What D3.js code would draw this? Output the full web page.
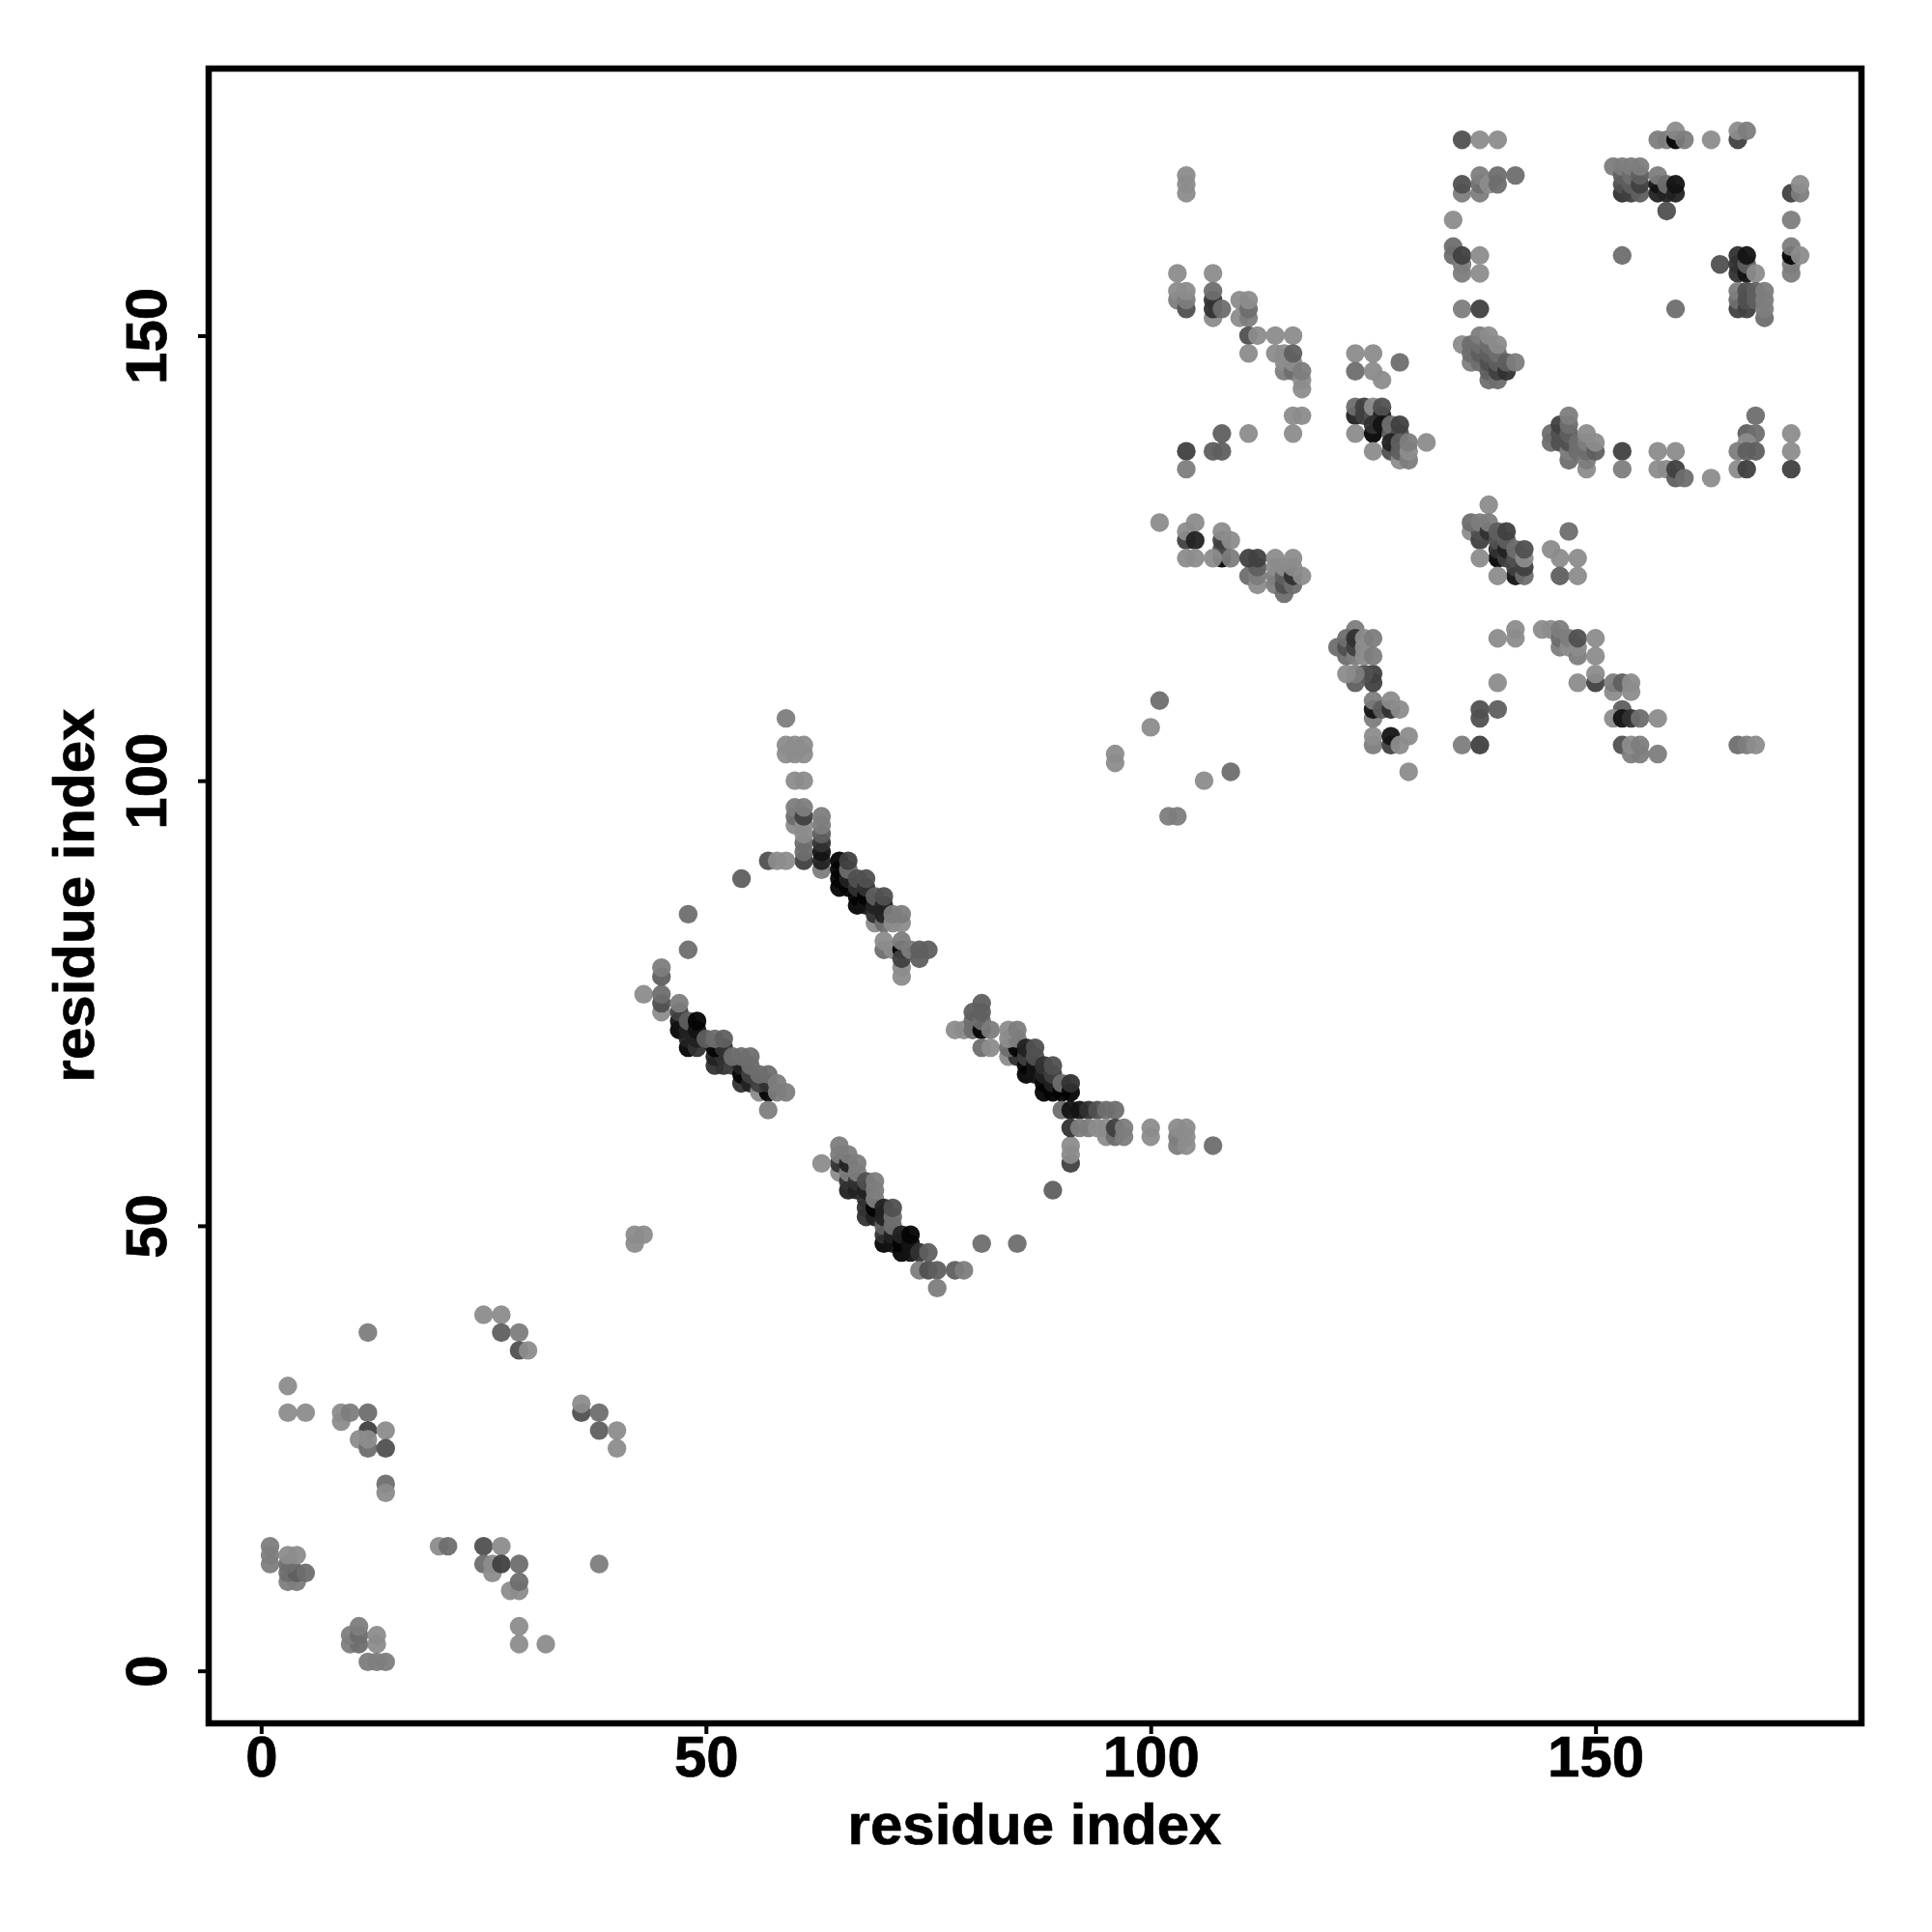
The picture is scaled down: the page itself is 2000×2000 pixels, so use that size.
<!DOCTYPE html>
<html><head><meta charset="utf-8"><style>html,body{margin:0;background:#fff}svg{display:block}text{font-family:"Liberation Sans",Arial,sans-serif;font-weight:bold;fill:#000;stroke:#000;stroke-width:0.7px}</style>
<script src="https://cdnjs.cloudflare.com/ajax/libs/d3/7.8.5/d3.min.js"></script></head><body><script>
// each contact: [residue i, residue j, shade 0 (weak) .. 9 (strong)]
const lowerContacts=[[42,49,0],[43,49,0],[42,48,0],[25,40,0],[27,40,0],[27,38,3],[29,38,1],[29,36,4],[30,36,0],[12,38,1],[3,32,0],[3,29,0],[5,29,0],[9,28,0],[9,29,0],[10,29,1],[12,29,2],[12,27,5],[14,27,0],[11,26,0],[12,25,2],[12,26,0],[14,25,4],[14,21,2],[14,20,0],[36,29,4],[36,30,0],[38,29,2],[38,27,3],[40,27,0],[40,25,0],[1,14,1],[1,13,1],[1,12,1],[3,10,1],[4,10,1],[3,11,2],[4,11,3],[5,11,2],[3,12,2],[3,13,0],[4,13,0],[20,14,0],[21,14,2],[25,14,4],[27,14,0],[25,12,2],[26,11,0],[26,12,0],[27,12,5],[29,12,2],[28,9,0],[29,9,0],[29,10,2],[38,12,1],[10,3,1],[11,3,2],[10,4,1],[11,4,2],[11,5,1],[13,3,0],[13,4,0],[12,1,1],[13,1,1],[14,1,1],[29,5,0],[29,3,0],[32,3,0]];
const hairpinA=[[59,107,1],[59,103,0],[60,103,0],[61,103,0],[59,104,0],[60,104,0],[61,104,0],[60,100,0],[61,100,0],[60,95,0],[60,96,2],[60,97,1],[61,91,5],[61,92,2],[61,93,2],[61,94,0],[61,95,0],[61,96,5],[61,97,1],[63,90,1],[63,91,7],[63,92,8],[63,93,6],[63,94,3],[63,95,1],[63,96,1],[57,91,4],[58,91,0],[59,91,0],[54,89,3],[48,85,2],[48,81,2],[43,76,0],[45,74,0],[45,75,4],[45,76,2],[45,78,3],[45,79,1],[47,72,9],[47,73,8],[47,74,5],[47,75,1],[48,70,9],[48,71,7],[48,72,7],[48,73,3],[49,70,6],[49,71,7],[49,72,8],[49,73,9],[51,68,6],[52,68,6],[51,69,7],[52,69,6],[51,70,9],[52,70,6],[50,71,3],[51,71,2],[52,71,3],[53,68,5],[54,66,6],[54,67,9],[54,68,7],[55,66,7],[55,67,5],[55,68,2],[53,69,2],[54,69,2],[55,69,2],[56,65,0],[57,65,9],[56,66,5],[57,66,6],[56,67,2],[57,67,2],[58,65,1],[58,66,1],[59,65,1],[57,63,1]];
const hairpinB=[[65,88,9],[65,89,9],[65,90,9],[65,91,9],[66,88,9],[66,89,7],[66,90,2],[66,91,5],[67,86,9],[67,87,9],[67,88,6],[67,89,4],[68,86,8],[68,87,9],[68,88,6],[68,89,4],[69,84,0],[69,85,6],[69,86,7],[69,87,3],[70,84,2],[70,85,7],[70,86,7],[70,87,4],[71,84,0],[72,84,0],[71,85,1],[72,85,1],[70,81,2],[70,82,0],[71,81,0],[72,79,0],[72,78,0],[72,81,9],[72,80,5],[72,82,1],[73,81,1],[74,80,3],[74,81,3],[75,81,3],[78,72,0],[79,72,0],[80,72,2],[80,73,2],[81,72,9],[80,74,3],[81,73,2],[81,74,3],[81,75,3],[82,72,1],[81,70,2],[82,70,0],[84,69,0],[85,69,6],[84,70,2],[85,70,9],[84,71,0],[85,71,1],[84,72,0],[85,72,1],[86,67,9],[86,68,9],[86,69,5],[86,70,7],[87,67,8],[87,68,8],[87,69,4],[87,70,4],[88,65,9],[88,66,9],[88,67,7],[88,68,6],[89,65,9],[89,66,7],[89,67,5],[89,68,4],[90,65,9],[90,66,2],[91,65,9],[91,66,6]];
const hairpinC=[[65,56,0],[65,57,6],[65,58,1],[65,59,1],[63,57,0],[66,54,7],[66,55,6],[66,56,1],[66,57,7],[66,58,1],[67,54,7],[67,55,6],[67,56,1],[67,57,1],[68,51,6],[68,52,6],[68,53,6],[68,54,7],[68,55,4],[69,51,7],[69,52,9],[69,53,1],[69,54,1],[69,55,1],[70,48,9],[70,49,6],[70,50,3],[70,51,7],[70,52,7],[71,48,8],[71,49,7],[71,50,2],[71,51,2],[71,52,4],[72,47,9],[72,48,9],[72,49,7],[73,47,8],[73,48,8],[73,49,9],[74,47,6],[75,47,3],[74,45,1],[75,45,4],[76,45,3],[78,45,3],[79,45,1],[76,43,1],[81,48,2],[85,48,2],[89,54,3],[91,57,5],[91,58,0],[91,59,0],[90,63,2],[91,63,8],[92,63,8],[93,63,6],[94,63,4],[95,63,2],[96,63,2],[91,61,6],[92,61,1],[93,61,1],[94,61,0],[95,60,0],[95,61,0],[96,60,2],[96,61,5],[97,60,1],[97,61,1],[100,60,0],[100,61,0],[103,59,1],[103,60,1],[103,61,0],[104,59,0],[104,60,0],[104,61,0],[107,59,2]];
const upperLeft=[[101,109,2],[100,106,0],[96,102,0],[96,103,0],[106,100,0],[109,101,2],[102,96,1],[103,96,1],[129,101,0],[125,104,1],[125,105,0],[127,104,5],[127,105,8],[128,104,0],[129,105,0],[125,107,1],[125,108,8],[125,109,1],[126,108,3],[127,108,6],[127,109,0],[128,108,0],[125,111,5],[125,112,5],[124,112,4],[123,111,3],[123,112,1],[122,112,0],[123,117,1],[121,115,2],[122,114,2],[122,115,4],[122,116,2],[123,114,1],[123,115,5],[123,116,6],[124,114,0],[124,115,0],[124,116,0],[125,114,1],[125,116,1],[135,104,1],[137,104,5],[137,107,4],[137,108,4],[139,108,3],[103,157,0],[107,157,0],[103,154,1],[103,155,0],[104,153,4],[104,154,1],[104,155,0],[107,152,0],[107,153,6],[107,154,6],[107,155,2],[108,153,2],[110,152,0],[110,154,0],[111,152,1],[111,153,2],[111,154,0],[111,150,4],[112,150,0],[114,150,0],[116,150,0],[111,148,0],[114,148,0],[115,148,0],[115,146,1],[115,147,0],[116,146,2],[116,147,0],[116,148,3],[117,144,0],[117,145,0],[117,146,1],[116,141,0],[117,141,0],[116,139,0],[111,139,0],[108,139,3],[107,137,3],[108,137,3],[104,137,5],[104,135,1],[104,166,0],[104,167,0],[104,168,0],[123,148,0],[125,148,0],[123,146,2],[125,146,0],[126,145,0],[128,147,2]];
const upperMiddle=[[123,141,7],[123,142,2],[124,141,5],[124,142,5],[125,141,4],[125,142,0],[126,141,7],[126,142,4],[123,139,0],[125,139,9],[125,140,6],[126,140,8],[127,139,3],[127,140,2],[128,139,4],[128,140,5],[125,137,0],[127,137,4],[127,138,7],[128,136,0],[128,137,3],[128,138,3],[129,136,1],[129,137,0],[129,138,1],[131,138,0],[101,129,0],[105,129,0],[104,127,5],[104,128,0],[105,127,7],[104,125,0],[105,125,0],[108,125,9],[108,126,4],[108,127,5],[108,128,0],[109,127,0],[107,125,0],[109,125,1],[111,123,2],[112,122,0],[112,123,1],[112,124,3],[111,125,5],[112,125,5],[114,122,1],[114,123,1],[114,124,0],[114,125,0],[115,121,2],[115,122,4],[115,123,3],[115,124,0],[116,122,2],[116,123,6],[116,124,0],[116,125,0],[117,123,0]];
const upperRight=[[138,131,0],[136,128,0],[137,127,5],[137,128,4],[136,129,2],[137,129,1],[138,128,6],[138,129,1],[139,125,9],[139,126,6],[139,127,4],[139,128,3],[140,125,5],[140,126,7],[140,127,3],[140,128,5],[137,125,0],[141,123,8],[141,124,5],[141,125,4],[141,126,2],[142,123,2],[142,124,5],[142,125,0],[142,126,4],[139,123,0],[147,128,2],[145,126,0],[146,125,0],[148,125,0],[146,123,3],[148,123,0],[139,116,0],[141,116,0],[141,117,0],[144,117,0],[145,117,0],[146,115,1],[146,116,2],[146,117,1],[147,115,0],[147,116,1],[148,114,1],[148,115,0],[148,116,4],[150,116,0],[150,114,0],[139,111,0],[148,111,0],[150,111,5],[150,112,0],[152,110,0],[152,111,1],[153,111,3],[154,110,0],[154,111,0],[153,108,3],[152,107,0],[153,107,8],[154,107,6],[155,107,2],[157,107,0],[153,104,4],[154,103,1],[155,103,1],[154,104,0],[155,104,1],[157,103,1],[166,104,2],[167,104,1],[168,104,0]];
const topGroup=[[135,172,4],[137,172,0],[139,172,0],[135,166,1],[135,167,4],[137,166,1],[137,167,2],[137,168,1],[138,167,0],[139,167,2],[139,168,2],[141,168,2],[134,163,0],[134,159,2],[134,160,2],[135,157,1],[135,158,1],[135,159,5],[137,157,0],[137,159,0],[135,153,1],[137,153,5],[135,149,0],[136,147,1],[136,148,2],[136,149,2],[137,147,2],[137,148,3],[137,149,2],[137,150,1],[138,145,2],[138,146,3],[138,147,4],[138,148,3],[138,149,2],[138,150,0],[139,145,2],[139,146,5],[139,147,3],[139,148,2],[139,149,0],[140,146,6],[140,147,3],[141,147,1],[157,172,1],[158,172,1],[159,172,9],[159,173,0],[160,172,1],[163,172,0],[166,172,5],[166,173,0],[167,173,1],[152,169,1],[153,166,6],[153,167,4],[153,168,3],[153,169,1],[154,166,5],[154,167,3],[154,168,2],[154,169,1],[155,166,3],[155,167,5],[155,168,3],[155,169,1],[157,166,7],[157,167,8],[157,168,1],[158,166,7],[158,167,2],[159,166,7],[159,167,8],[158,164,4],[172,166,5],[173,166,1],[173,167,0],[172,163,1],[153,159,2],[164,158,4],[166,157,6],[166,158,6],[166,159,6],[167,157,8],[167,158,3],[167,159,8],[168,157,0],[166,153,5],[166,154,2],[166,155,1],[167,153,5],[167,154,4],[167,155,4],[168,154,3],[168,155,3],[169,152,2],[169,153,1],[169,154,1],[169,155,1],[159,153,2],[172,157,1],[172,158,1],[172,159,9],[172,160,1],[173,159,0]];
const bottomGroup=[[145,138,2],[145,139,2],[146,138,4],[146,139,4],[146,140,5],[147,136,2],[147,137,1],[147,138,4],[147,139,3],[147,140,2],[147,141,1],[148,137,2],[148,138,2],[149,135,0],[149,136,1],[149,137,2],[149,138,1],[149,139,0],[150,137,3],[150,138,0],[153,137,5],[153,135,1],[157,137,0],[159,137,0],[157,135,0],[158,135,0],[159,134,3],[159,135,5],[160,134,2],[163,134,0],[168,141,2],[167,139,3],[168,139,2],[167,138,0],[166,137,1],[167,137,3],[168,137,3],[166,135,0],[167,135,5],[172,139,0],[172,137,0],[172,135,5]];
const contacts=[lowerContacts,hairpinA,hairpinB,hairpinC,upperLeft,upperMiddle,upperRight,topGroup,bottomGroup].flat();
const tickValues=[0,50,100,150];
const axisTitle="residue index";

const svg=d3.select("body").append("svg").attr("width",2000).attr("height",2000);
const x=d3.scaleLinear().domain([-5.9,179.9]).range([216,1927]);
const y=d3.scaleLinear().domain([-5.9,180]).range([1784,71]);
const grey=d3.scaleLinear().domain([0,9]).range([140,4]);

svg.append("g").selectAll("circle").data(contacts).join("circle")
  .attr("cx",d=>x(d[0])).attr("cy",d=>y(d[1])).attr("r",9.7)
  .attr("fill",d=>{const g=Math.round(grey(d[2]));return `rgb(${g},${g},${g})`;})
  .attr("fill-opacity",0.95);

svg.append("rect").attr("x",x.range()[0]).attr("y",y.range()[1])
  .attr("width",x.range()[1]-x.range()[0]).attr("height",y.range()[0]-y.range()[1])
  .attr("fill","none").attr("stroke","#000").attr("stroke-width",6.5);

const gx=svg.append("g").attr("transform",`translate(0,${y.range()[0]})`)
  .call(d3.axisBottom(x).tickValues(tickValues).tickSize(11).tickPadding(11).tickFormat(d3.format("d")));
const gy=svg.append("g").attr("transform",`translate(${x.range()[0]},0)`)
  .call(d3.axisLeft(y).tickValues(tickValues).tickSize(11).tickFormat(d3.format("d")));
[gx,gy].forEach(g=>{g.select(".domain").remove();g.attr("font-size",null).attr("font-family",null);
  g.selectAll("line").attr("stroke","#000").attr("stroke-width",4);
  g.selectAll("text").style("font-size","60px").attr("fill","#000");});
gx.selectAll("text").attr("dy",null).attr("y",null).attr("transform",null)
  .attr("text-anchor","middle").attr("dominant-baseline","auto").attr("y",55);
gy.selectAll("text").attr("x",null).attr("dy",null)
  .attr("text-anchor","middle").attr("transform","translate(-44,0) rotate(-90)");

svg.append("text").attr("x",1071).attr("y",1909).attr("text-anchor","middle").style("font-size","60px").text(axisTitle);
svg.append("text").attr("transform","translate(97,927) rotate(-90)").attr("text-anchor","middle").style("font-size","60px").text(axisTitle);
</script></body></html>
